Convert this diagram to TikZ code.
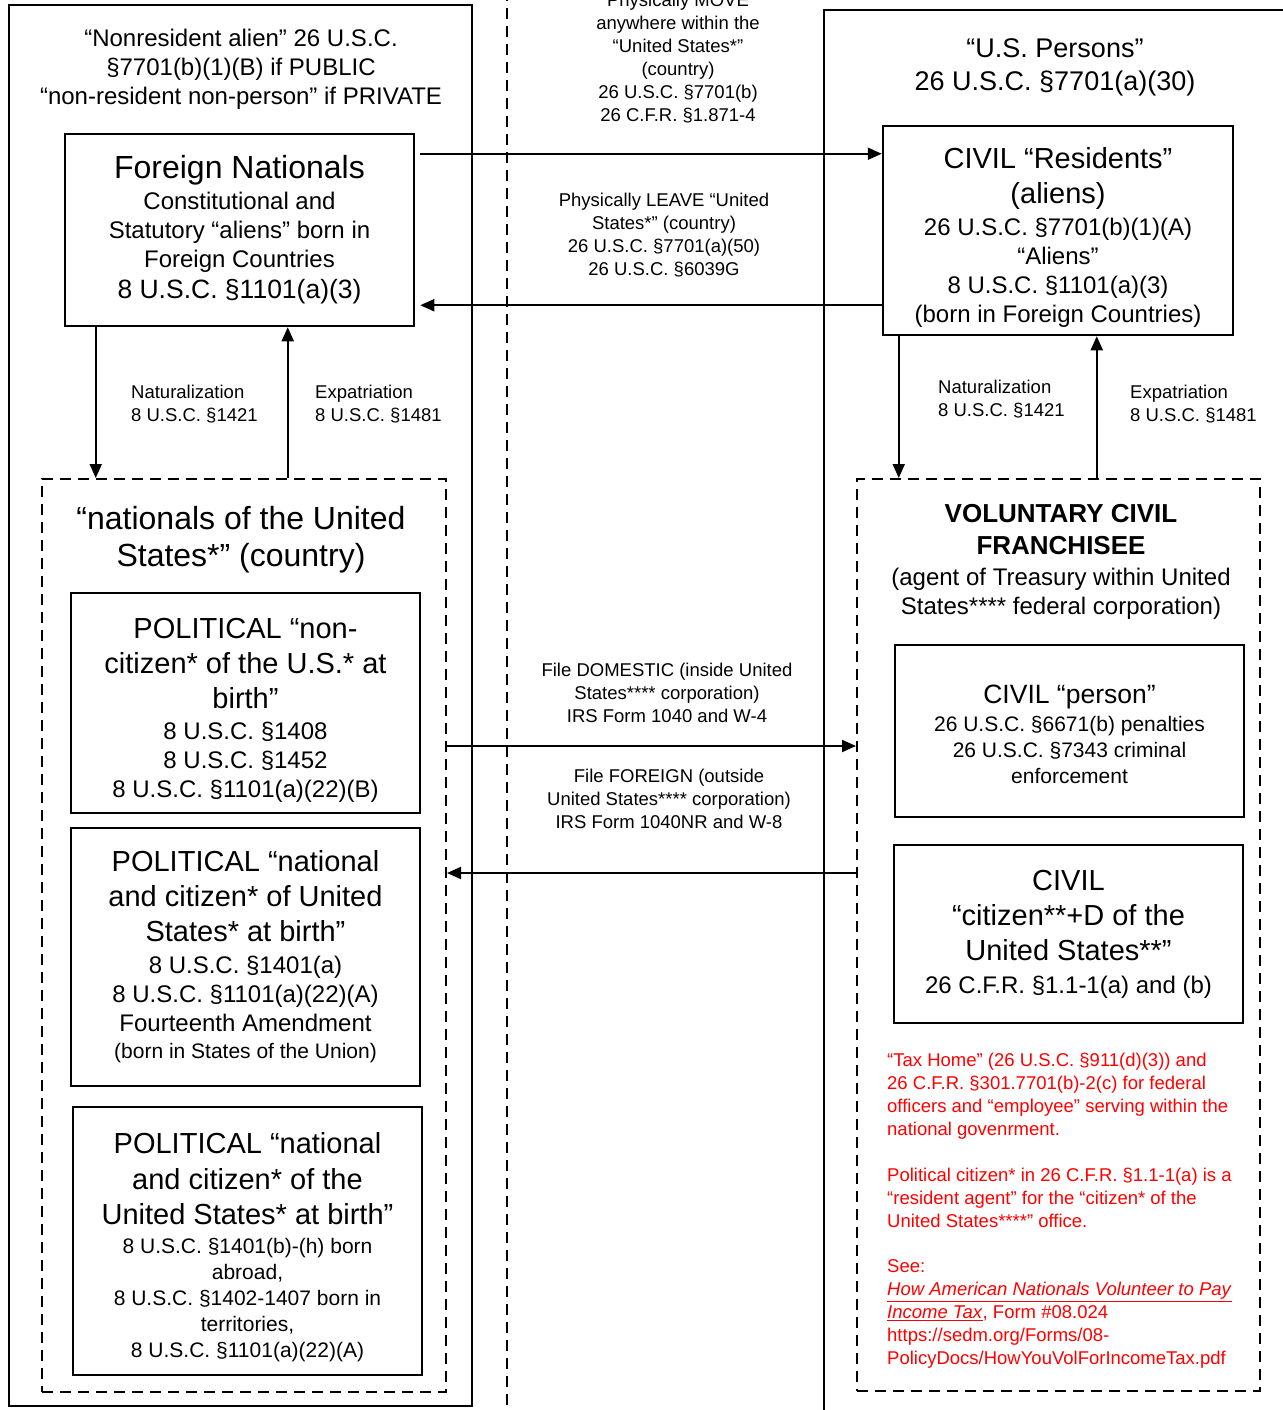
\documentclass[tikz,border=0pt]{standalone}
\usepackage{fontspec}
\setmainfont{Liberation Sans}
\usetikzlibrary{arrows.meta}

\begin{document}
\begin{tikzpicture}[x=1pt,y=-1pt,>={Triangle[length=14pt,width=12pt]}]

  \tikzstyle{zonebox}=[rectangle,draw,line width=2.5pt,inner sep=0pt]
  \tikzstyle{groupbox}=[rectangle,draw,line width=2pt,dash pattern=on 11pt off 7pt,inner sep=0pt]
  \tikzstyle{statusbox}=[rectangle,draw,line width=2.5pt,inner sep=0pt]
  \tikzstyle{statustext}=[inner sep=0pt,align=center,font=\fontsize{24}{29}\selectfont]
  \tikzstyle{heading}=[inner sep=0pt,align=center,font=\fontsize{24}{29}\selectfont]
  \tikzstyle{route}=[inner sep=0pt,align=center,font=\fontsize{18.5}{23}\selectfont]
  \tikzstyle{process}=[inner sep=0pt,align=left,anchor=west,font=\fontsize{18.5}{23}\selectfont]
  \tikzstyle{transfer}=[->,line width=2pt]

  \useasboundingbox (0,0) rectangle (1282,1410);

  \node [zonebox,minimum width=463pt,minimum height=1401pt] (public)  at (240.5,705.5) {};
  \node [zonebox,minimum width=480pt,minimum height=1420pt] (persons) at (1064,720)    {};
  \coordinate (divtop) at (507,-10);
  \coordinate (divbot) at (507,1420);
  \draw [line width=2pt,dash pattern=on 11pt off 7pt] (divtop) -- (divbot);

  \node [heading] (nratitle) at (241,69)
    {“Nonresident alien” 26 U.S.C.\\ §7701(b)(1)(B) if PUBLIC\\ “non-resident non-person” if PRIVATE};
  \node [heading,font=\fontsize{27}{33}\selectfont] (perstitle) at (1055,67)
    {“U.S. Persons”\\ 26 U.S.C. §7701(a)(30)};

  \node [statusbox,minimum width=349pt,minimum height=192pt] (foreign) at (239.5,230) {};
  \node [statustext] (foreigntext) at (foreign)
    {{\fontsize{32}{36}\selectfont Foreign Nationals}\\[2pt]
     Constitutional and\\ Statutory “aliens” born in\\ Foreign Countries\\[2pt]
     {\fontsize{26.5}{30}\selectfont 8 U.S.C. §1101(a)(3)}};
  \node [statusbox,minimum width=350pt,minimum height=209pt] (residents) at (1058,230.5) {};
  \node [statustext] (residentstext) at ([yshift=-7pt]residents)
    {{\fontsize{29}{35}\selectfont CIVIL “Residents”}\\[6pt]
     {\fontsize{29}{35}\selectfont (aliens)}\\[3pt]
     26 U.S.C. §7701(b)(1)(A)\\ “Aliens”\\ 8 U.S.C. §1101(a)(3)\\ (born in Foreign Countries)};

  \node [groupbox,minimum width=404pt,minimum height=913pt] (nationals) at (244,935.5) {};
  \node [heading,font=\fontsize{32}{37}\selectfont] (natltitle) at (241,540)
    {“nationals of the United\\ States*” (country)};

  \node [statusbox,minimum width=349pt,minimum height=220pt] (noncitizen) at (245.5,703) {};
  \node [statustext] (noncitizentext) at ([yshift=-7pt]noncitizen)
    {{\fontsize{29}{35}\selectfont POLITICAL “non-}\\[6pt]
     {\fontsize{29}{35}\selectfont citizen* of the U.S.* at}\\[6pt]
     {\fontsize{29}{35}\selectfont birth”}\\[2pt]
     8 U.S.C. §1408\\ 8 U.S.C. §1452\\ 8 U.S.C. §1101(a)(22)(B)};
  \node [statusbox,minimum width=349pt,minimum height=258pt] (national) at (245.5,957) {};
  \node [statustext] (nationaltext) at (national)
    {{\fontsize{29}{35}\selectfont POLITICAL “national}\\[6pt]
     {\fontsize{29}{35}\selectfont and citizen* of United}\\[6pt]
     {\fontsize{29}{35}\selectfont States* at birth”}\\[3pt]
     8 U.S.C. §1401(a)\\ 8 U.S.C. §1101(a)(22)(A)\\ Fourteenth Amendment\\[-2pt]
     {\fontsize{21}{26}\selectfont (born in States of the Union)}};
  \node [statusbox,minimum width=349pt,minimum height=268pt] (abroad) at (247.5,1241) {};
  \node [statustext,font=\fontsize{21}{26}\selectfont] (abroadtext) at ([yshift=-6pt]abroad)
    {{\fontsize{29}{35}\selectfont POLITICAL “national}\\[10pt]
     {\fontsize{29}{35}\selectfont and citizen* of the}\\[9pt]
     {\fontsize{29}{35}\selectfont United States* at birth”}\\[3pt]
     8 U.S.C. §1401(b)-(h) born\\ abroad,\\ 8 U.S.C. §1402-1407 born in\\ territories,\\ 8 U.S.C. §1101(a)(22)(A)};

  \node [groupbox,minimum width=403pt,minimum height=912pt] (franchisee) at (1058.5,935) {};
  \node [heading] (frantitle) at (1061,562)
    {{\fontsize{26}{31}\selectfont\bfseries VOLUNTARY CIVIL}\\[3pt]
     {\fontsize{26}{31}\selectfont\bfseries FRANCHISEE}\\[2pt]
     (agent of Treasury within United\\ States**** federal corporation)};

  \node [statusbox,minimum width=349pt,minimum height=172pt] (person) at (1069.5,731) {};
  \node [statustext,font=\fontsize{21}{26}\selectfont] (persontext) at ([yshift=-3pt]person)
    {{\fontsize{26.5}{32}\selectfont CIVIL “person”}\\[2pt]
     26 U.S.C. §6671(b) penalties\\ 26 U.S.C. §7343 criminal\\ enforcement};
  \node [statusbox,minimum width=349pt,minimum height=178pt] (civilcitizen) at (1068.5,934) {};
  \node [statustext] (civilcitizentext) at (civilcitizen)
    {{\fontsize{29}{35}\selectfont CIVIL}\\[6pt]
     {\fontsize{29}{35}\selectfont “citizen**+D of the}\\[6pt]
     {\fontsize{29}{35}\selectfont United States**”}\\[4pt]
     26 C.F.R. §1.1-1(a) and (b)};

  \node [inner sep=0pt,align=left,anchor=north west,text=red,font=\fontsize{18.5}{23}\selectfont] (notes) at (887,1053)
    {“Tax Home” (26 U.S.C. §911(d)(3)) and\\
     26 C.F.R. §301.7701(b)-2(c) for federal\\
     officers and “employee” serving within the\\
     national govenrment.\\[23pt]
     Political citizen* in 26 C.F.R. §1.1-1(a) is a\\
     “resident agent” for the “citizen* of the\\
     United States****” office.\\[22pt]
     See:\\
     \underline{\textit{How American Nationals Volunteer to Pay}}\\
     \underline{\textit{Income Tax}}, Form \#08.024\\
     https://sedm.org/Forms/08-\\
     PolicyDocs/HowYouVolForIncomeTax.pdf};

  \node [route] (movelabel)  at (678,58)  {Physically MOVE\\ anywhere within the\\ “United States*”\\ (country)\\ 26 U.S.C. §7701(b)\\ 26 C.F.R. §1.871-4};
  \node [route] (leavelabel) at (664,235) {Physically LEAVE “United\\ States*” (country)\\ 26 U.S.C. §7701(a)(50)\\ 26 U.S.C. §6039G};
  \node [route] (domlabel)   at (667,693) {File DOMESTIC (inside United\\ States**** corporation)\\ IRS Form 1040 and W-4};
  \node [route] (forlabel)   at (669,799) {File FOREIGN (outside\\ United States**** corporation)\\ IRS Form 1040NR and W-8};

  \node [process] (natleft)  at (131,404)  {Naturalization\\ 8 U.S.C. §1421};
  \node [process] (expleft)  at (315,404)  {Expatriation\\ 8 U.S.C. §1481};
  \node [process] (natright) at (938,399)  {Naturalization\\ 8 U.S.C. §1421};
  \node [process] (expright) at (1130,404) {Expatriation\\ 8 U.S.C. §1481};

  \draw [transfer] ([xshift=5pt,yshift=-21pt]foreign.north east) -- ([yshift=-21pt]foreign.north east -| residents.west);
  \draw [transfer] ([yshift=22pt]foreign.south east -| residents.west) -- ([xshift=5pt,yshift=22pt]foreign.south east);
  \draw [transfer] ([xshift=32pt]foreign.south west) -- ([xshift=32pt]foreign.south west |- nationals.north);
  \draw [transfer] ([xshift=224pt]foreign.south west |- nationals.north) -- ([xshift=224pt]foreign.south west);
  \draw [transfer] ([xshift=17pt]residents.south west) -- ([xshift=17pt]residents.south west |- franchisee.north);
  \draw [transfer] ([xshift=215pt]residents.south west |- franchisee.north) -- ([xshift=215pt]residents.south west);
  \draw [transfer] ([yshift=-268pt]nationals.north east) -- ([yshift=-268pt]nationals.north east -| franchisee.west);
  \draw [transfer] ([yshift=-395pt]nationals.north east -| franchisee.west) -- ([yshift=-395pt]nationals.north east);

\end{tikzpicture}
\end{document}
